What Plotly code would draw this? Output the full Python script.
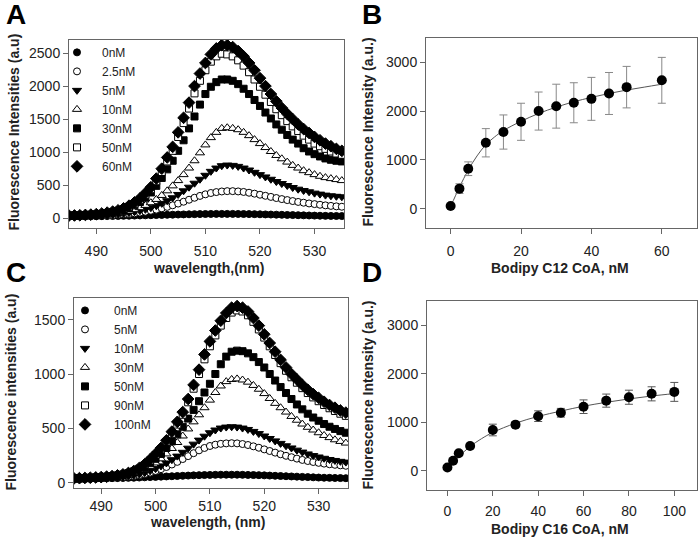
import plotly.graph_objects as go

FONT = "Liberation Sans, Arial, sans-serif"

wavelength = list(range(485, 536))

# Panel A spectra (Bodipy C12 CoA)
A_labels = ["0nM", "2.5nM", "5nM", "10nM", "30nM", "50nM", "60nM"]
A_0nM = [28, 28, 29, 29, 30, 31, 32, 33, 34, 35,
         37, 38, 40, 42, 44, 46, 48, 50, 52, 54,
         56, 58, 60, 62, 63, 64, 65, 66, 66, 66,
         66, 65, 64, 63, 62, 60, 58, 56, 54, 52,
         50, 48, 46, 44, 42, 40, 38, 36, 35, 34, 33]
A_2_5nM = [30, 31, 32, 33, 35, 37, 40, 43, 47, 52,
           58, 65, 74, 85, 98, 113, 130, 150, 172, 196,
           222, 250, 280, 310, 338, 362, 382, 396, 405, 410,
           410, 406, 398, 386, 372, 356, 340, 323, 306, 290,
           275, 260, 247, 235, 224, 214, 204, 195, 187, 180, 174]
A_5nM = [32, 33, 34, 36, 38, 41, 45, 50, 56, 63,
         72, 84, 98, 115, 135, 160, 190, 225, 265, 310,
         360, 415, 470, 530, 590, 650, 710, 760, 795, 805,
         800, 785, 760, 730, 695, 660, 625, 590, 555, 525,
         495, 465, 440, 420, 400, 380, 365, 350, 340, 332, 325]
A_10nM = [35, 36, 38, 40, 43, 47, 52, 58, 66, 76,
          90, 108, 130, 160, 195, 235, 285, 345, 415, 490,
          570, 660, 760, 870, 990, 1110, 1220, 1300, 1360, 1370,
          1360, 1340, 1300, 1250, 1190, 1130, 1070, 1010, 950, 900,
          850, 800, 760, 720, 690, 660, 635, 615, 600, 585, 570]
A_30nM = [38, 40, 42, 45, 50, 55, 62, 72, 85, 100,
          125, 155, 195, 245, 310, 390, 490, 610, 740, 870,
          1020, 1180, 1360, 1540, 1720, 1880, 1990, 2060, 2100, 2100,
          2080, 2030, 1960, 1880, 1790, 1700, 1600, 1510, 1420, 1340,
          1260, 1190, 1130, 1060, 1010, 970, 935, 905, 885, 870, 860]
A_50nM = [40, 42, 44, 48, 53, 60, 68, 80, 95, 115,
          140, 175, 220, 280, 355, 440, 560, 700, 860, 1020,
          1230, 1440, 1660, 1890, 2080, 2240, 2370, 2450, 2490, 2480,
          2450, 2390, 2310, 2210, 2100, 1990, 1870, 1760, 1650, 1560,
          1470, 1390, 1320, 1250, 1190, 1130, 1090, 1050, 1010, 980, 960]
A_60nM = [40, 42, 45, 50, 55, 62, 72, 85, 100, 120,
          150, 190, 240, 300, 380, 470, 600, 750, 920, 1080,
          1300, 1520, 1750, 2000, 2190, 2350, 2480, 2570, 2620, 2620,
          2590, 2530, 2450, 2350, 2240, 2120, 2000, 1880, 1770, 1670,
          1580, 1500, 1420, 1350, 1290, 1230, 1180, 1130, 1090, 1050, 1020]

# Panel C spectra (Bodipy C16 CoA)
C_labels = ["0nM", "5nM", "10nM", "30nM", "50nM", "90nM", "100nM"]
C_0nM = [38, 38, 39, 39, 40, 40, 41, 42, 43, 44,
         45, 46, 48, 50, 52, 54, 56, 58, 60, 62,
         64, 66, 68, 70, 71, 72, 73, 74, 74, 74,
         74, 73, 72, 71, 70, 68, 66, 64, 62, 60,
         58, 56, 54, 52, 50, 48, 46, 45, 44, 43, 42]
C_5nM = [33, 34, 35, 36, 37, 39, 41, 43, 46, 50,
         55, 62, 70, 80, 93, 108, 125, 145, 168, 192,
         218, 245, 272, 298, 320, 338, 350, 358, 362, 364,
         362, 356, 347, 335, 322, 307, 292, 277, 262, 248,
         235, 222, 210, 200, 191, 183, 176, 170, 165, 160, 156]
C_10nM = [34, 35, 36, 37, 39, 41, 43, 46, 50, 55,
          61, 70, 80, 93, 110, 130, 155, 182, 212, 245,
          280, 318, 355, 392, 428, 460, 485, 503, 512, 515,
          512, 503, 490, 472, 452, 430, 407, 385, 362, 340,
          320, 300, 282, 265, 250, 237, 225, 214, 205, 197, 190]
C_30nM = [36, 37, 39, 41, 43, 46, 49, 53, 58, 65,
          74, 86, 102, 123, 150, 182, 220, 265, 315, 370,
          430, 495, 560, 625, 690, 760, 830, 890, 930, 950,
          955, 945, 925, 895, 860, 820, 775, 730, 690, 650,
          610, 575, 540, 510, 485, 460, 435, 415, 395, 380, 365]
C_50nM = [38, 40, 42, 44, 46, 49, 53, 58, 64, 72,
          83, 98, 118, 145, 180, 220, 265, 320, 380, 445,
          515, 590, 670, 750, 830, 910, 1000, 1090, 1160, 1205,
          1215, 1210, 1190, 1155, 1110, 1060, 1000, 940, 880, 825,
          770, 720, 675, 635, 600, 570, 540, 515, 495, 475, 460]
C_90nM = [40, 42, 44, 46, 49, 52, 56, 61, 67, 76,
          88, 105, 130, 163, 205, 255, 308, 375, 450, 535,
          625, 740, 865, 1000, 1135, 1255, 1355, 1445, 1515, 1565,
          1585, 1575, 1540, 1480, 1410, 1335, 1255, 1175, 1100, 1030,
          970, 920, 870, 825, 785, 750, 715, 685, 660, 635, 615]
C_100nM = [40, 42, 44, 46, 49, 52, 56, 61, 68, 77,
           90, 108, 135, 170, 215, 265, 320, 390, 470, 560,
           650, 770, 900, 1040, 1180, 1300, 1400, 1490, 1560, 1610,
           1625, 1610, 1575, 1515, 1445, 1365, 1285, 1205, 1130, 1060,
           1000, 950, 900, 855, 815, 780, 745, 715, 690, 665, 645]

# Panel B binding (C12)
B_conc = [0, 2.5, 5, 10, 15, 20, 25, 30, 35, 40, 45, 50, 60]
B_int = [55, 410, 818, 1350, 1570, 1780, 2000, 2100, 2170, 2250, 2360, 2490, 2630]
B_err = [0, 100, 140, 290, 350, 380, 390, 450, 410, 440, 430, 425, 470]
B_fit_x = [0, 2.5, 5, 7.5, 10, 12.5, 15, 20, 25, 30, 35, 40, 45, 50, 55, 60]
B_fit_y = [40, 440, 790, 1080, 1310, 1470, 1600, 1790, 1950, 2080, 2190, 2280, 2360, 2430, 2490, 2550]

# Panel D binding (C16)
D_conc = [0, 2.5, 5, 10, 20, 30, 40, 50, 60, 70, 80, 90, 100]
D_int = [68, 205, 360, 510, 840, 950, 1125, 1195, 1320, 1445, 1515, 1585, 1625]
D_err = [0, 0, 0, 40, 120, 60, 110, 90, 140, 135, 145, 145, 195]
D_fit_x = [0, 2.5, 5, 10, 15, 20, 30, 40, 50, 60, 70, 80, 90, 100]
D_fit_y = [40, 170, 290, 500, 660, 790, 980, 1120, 1230, 1330, 1410, 1480, 1540, 1590]

# marker styles (symbol, fill, size)
styles = [("circle", "black", 7), ("circle", "white", 7), ("triangle-down", "black", 8),
          ("triangle-up", "white", 8), ("square", "black", 7), ("square", "white", 7),
          ("diamond", "black", 9)]

fig = go.Figure()

A_series = [A_0nM, A_2_5nM, A_5nM, A_10nM, A_30nM, A_50nM, A_60nM]
for lab, ys, (sym, fill, sz) in zip(A_labels, A_series, styles):
    fig.add_trace(go.Scatter(x=wavelength, y=ys, mode="markers", name=lab,
                             marker=dict(symbol=sym, color=fill, size=sz,
                                         line=dict(color="black", width=1)),
                             xaxis="x", yaxis="y", legend="legend"))

C_series = [C_0nM, C_5nM, C_10nM, C_30nM, C_50nM, C_90nM, C_100nM]
for lab, ys, (sym, fill, sz) in zip(C_labels, C_series, styles):
    fig.add_trace(go.Scatter(x=wavelength, y=ys, mode="markers", name=lab,
                             marker=dict(symbol=sym, color=fill, size=sz,
                                         line=dict(color="black", width=1)),
                             xaxis="x3", yaxis="y3", legend="legend2"))

fig.add_trace(go.Scatter(x=B_fit_x, y=B_fit_y, mode="lines", line=dict(color="#555", width=1, shape="spline"),
                         xaxis="x2", yaxis="y2", showlegend=False))
fig.add_trace(go.Scatter(x=B_conc, y=B_int, mode="markers",
                         marker=dict(symbol="circle", color="black", size=10),
                         error_y=dict(type="data", array=B_err, color="#888", thickness=1, width=4),
                         xaxis="x2", yaxis="y2", showlegend=False))
fig.add_trace(go.Scatter(x=D_fit_x, y=D_fit_y, mode="lines", line=dict(color="#555", width=1, shape="spline"),
                         xaxis="x4", yaxis="y4", showlegend=False))
fig.add_trace(go.Scatter(x=D_conc, y=D_int, mode="markers",
                         marker=dict(symbol="circle", color="black", size=10),
                         error_y=dict(type="data", array=D_err, color="#555", thickness=1, width=4),
                         xaxis="x4", yaxis="y4", showlegend=False))

W, H = 700, 541


def dx(a, b):
    return [a / W, b / W]


def dy(top, bottom):
    return [1 - bottom / H, 1 - top / H]


def ax(domain, rng, dtick, anchor, standoff=0):
    return dict(domain=domain, range=rng, dtick=dtick, anchor=anchor,
                showline=True, linecolor="#666", linewidth=1, mirror=True,
                ticks="outside", ticklen=5, tickcolor="#666", tickwidth=1,
                showgrid=False, zeroline=False, ticklabelstandoff=standoff,
                tickfont=dict(size=14, color="#222", family=FONT))


layout = dict(
    width=W, height=H, margin=dict(l=0, r=0, t=0, b=0),
    paper_bgcolor="white", plot_bgcolor="white",
    font=dict(family=FONT, color="#222"),
    xaxis=ax(dx(69, 344), [485, 535.4], 10, "y", 5),
    yaxis=ax(dy(40, 229), [-150, 2700], 500, "x"),
    xaxis2=ax(dx(426, 697), [-7, 70], 20, "y2", 5),
    yaxis2=ax(dy(38, 229), [-400, 3500], 1000, "x2"),
    xaxis3=ax(dx(74, 348), [485, 535.4], 10, "y3", 0),
    yaxis3=ax(dy(299, 490), [-50, 1700], 500, "x3"),
    xaxis4=ax(dx(427, 697), [-9, 110], 20, "y4", 3),
    yaxis4=ax(dy(302, 492), [-400, 3500], 1000, "x4"),
    legend=dict(x=52 / W, y=1 - 38 / H, xanchor="left", yanchor="top",
                bgcolor="rgba(0,0,0,0)", font=dict(size=12, family=FONT, color="#222"),
                tracegroupgap=0, itemsizing="trace", itemwidth=40),
    legend2=dict(x=56 / W, y=1 - 297 / H, xanchor="left", yanchor="top",
                 bgcolor="rgba(0,0,0,0)", font=dict(size=12, family=FONT, color="#222"),
                 tracegroupgap=0, itemsizing="trace", itemwidth=48),
)
fig.update_layout(**layout)

tfont = dict(size=14, family=FONT, color="#222")
ann = [
    dict(text="<b>A</b>", x=4 / W, y=1 - 15 / H, xanchor="left", yanchor="middle", font=dict(size=28, family=FONT, color="black")),
    dict(text="<b>B</b>", x=360 / W, y=1 - 15 / H, xanchor="left", yanchor="middle", font=dict(size=28, family=FONT, color="black")),
    dict(text="<b>C</b>", x=4 / W, y=1 - 274 / H, xanchor="left", yanchor="middle", font=dict(size=28, family=FONT, color="black")),
    dict(text="<b>D</b>", x=360 / W, y=1 - 274 / H, xanchor="left", yanchor="middle", font=dict(size=28, family=FONT, color="black")),
    dict(text="<b>Fluorescence Intensities (a.u)</b>", textangle=-90, x=14 / W, y=1 - 133 / H, xanchor="center", yanchor="middle", font=tfont),
    dict(text="<b>Fluorescence Intensity (a.u.)</b>", textangle=-90, x=368 / W, y=1 - 133 / H, xanchor="center", yanchor="middle", font=tfont),
    dict(text="<b>Fluorescence intensities (a.u)</b>", textangle=-90, x=11 / W, y=1 - 394 / H, xanchor="center", yanchor="middle", font=tfont),
    dict(text="<b>Fluorescence Intensity (a.u.)</b>", textangle=-90, x=368 / W, y=1 - 397 / H, xanchor="center", yanchor="middle", font=tfont),
    dict(text="<b>wavelength,(nm)</b>", x=208 / W, y=1 - 269 / H, xanchor="center", yanchor="middle", font=tfont),
    dict(text="<b>Bodipy C12 CoA, nM</b>", x=560 / W, y=1 - 269 / H, xanchor="center", yanchor="middle", font=tfont),
    dict(text="<b>wavelength, (nm)</b>", x=207 / W, y=1 - 524 / H, xanchor="center", yanchor="middle", font=tfont),
    dict(text="<b>Bodipy C16 CoA, nM</b>", x=560 / W, y=1 - 531 / H, xanchor="center", yanchor="middle", font=tfont),
]
for a in ann:
    a.update(xref="paper", yref="paper", showarrow=False)
fig.update_layout(annotations=ann)

fig.write_html("out.html", config={"displayModeBar": False},
               post_script="document.body.style.margin='0px';")
